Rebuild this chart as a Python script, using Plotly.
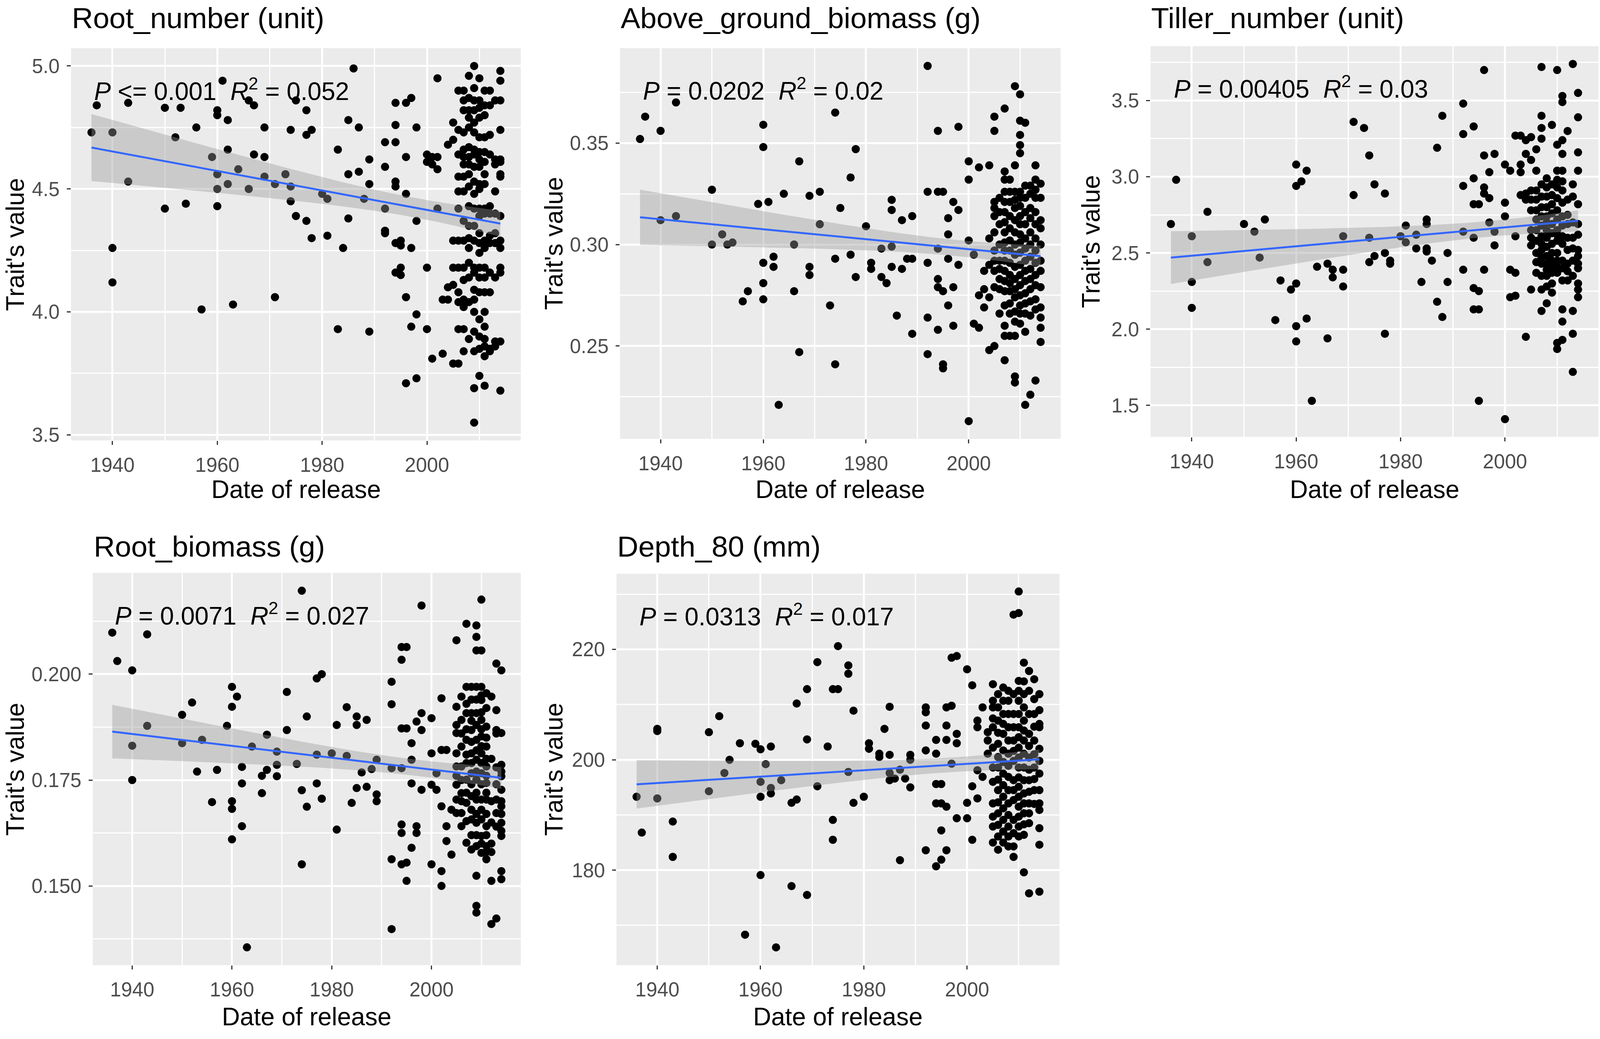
import numpy as np
import plotly.graph_objects as go

# ---------------- data (year of release, trait values) ----------------
root_number = [
    (1936, [4.73]), (1937, [4.84]), (1940, [4.73, 4.26, 4.12]), (1943, [4.85, 4.53]),
    (1950, [4.83, 4.42]), (1952, [4.71]), (1953, [4.83]), (1954, [4.44]), (1956, [4.75]),
    (1957, [4.01]), (1959, [4.63]), (1960, [4.82, 4.80, 4.56, 4.50, 4.43]), (1961, [4.94]),
    (1962, [4.78, 4.66, 4.52]), (1963, [4.03]), (1964, [4.58]), (1966, [4.86, 4.50]),
    (1967, [4.84, 4.64]), (1969, [4.75, 4.63, 4.55]), (1971, [4.52, 4.06]), (1973, [4.56]),
    (1974, [4.74, 4.51, 4.45]), (1975, [4.86, 4.39]), (1977, [4.82, 4.72, 4.37]),
    (1978, [4.74, 4.30]), (1980, [4.48]), (1981, [4.46, 4.31]), (1983, [4.66, 3.93]),
    (1984, [4.26]), (1985, [4.78, 4.56, 4.38]), (1986, [4.99]), (1987, [4.75, 4.57]),
    (1988, [4.46]), (1989, [4.62, 4.52, 3.92]), (1992, [4.69, 4.59, 4.42, 4.33, 4.32]),
    (1994, [4.85, 4.76, 4.69, 4.53, 4.51, 4.28, 4.16]), (1995, [4.29, 4.27, 4.18, 4.15]),
    (1996, [4.85, 4.63, 4.48, 4.06, 3.71]), (1997, [4.87, 4.26, 3.94]),
    (1998, [4.75, 4.37, 3.99, 3.73]), (2000, [4.64, 4.61, 4.18, 3.93]),
    (2001, [4.63, 4.60, 3.81]), (2002, [4.95, 4.63, 4.58, 4.42]), (2003, [4.05, 3.83]),
    (2004, [4.68, 4.10, 4.05]), (2005, [4.77, 4.70, 4.29, 4.18, 4.11, 3.79]),
    (2006, [4.90, 4.74, 4.64, 4.55, 4.49, 4.42, 4.29, 4.18, 4.08, 4.04, 3.93, 3.79]),
    (2007, [4.90, 4.86, 4.82, 4.73, 4.66, 4.63, 4.60, 4.55, 4.49, 4.37, 4.29, 4.18, 4.13, 4.05,
            4.02, 3.93, 3.84]),
    (2008, [4.96, 4.87, 4.82, 4.79, 4.75, 4.67, 4.63, 4.60, 4.56, 4.51, 4.43, 4.35, 4.30, 4.26,
            4.20, 4.14, 4.04, 3.89]),
    (2009, [5.00, 4.91, 4.86, 4.82, 4.77, 4.73, 4.66, 4.64, 4.59, 4.53, 4.48, 4.42, 4.35, 4.29,
            4.18, 4.16, 4.09, 4.05, 4.00, 3.92, 3.84, 3.69, 3.55]),
    (2010, [4.95, 4.86, 4.83, 4.79, 4.71, 4.65, 4.62, 4.59, 4.52, 4.50, 4.42, 4.39, 4.32, 4.28,
            4.24, 4.18, 4.14, 4.08, 3.97, 3.90, 3.85, 3.74]),
    (2011, [4.90, 4.84, 4.80, 4.71, 4.65, 4.61, 4.56, 4.52, 4.42, 4.40, 4.29, 4.26, 4.18, 4.14,
            4.08, 4.00, 3.94, 3.89, 3.86, 3.82, 3.70]),
    (2012, [4.90, 4.84, 4.72, 4.64, 4.43, 4.40, 4.31, 4.28, 4.16, 4.08, 3.85, 3.84]),
    (2013, [4.86, 4.62, 4.60, 4.49, 4.40, 4.32, 4.28, 4.14, 3.88, 3.86]),
    (2014, [4.98, 4.94, 4.86, 4.74, 4.62, 4.61, 4.56, 4.55, 4.39, 4.29, 4.26, 4.18, 4.16, 3.88, 3.68]),
]

above_ground_biomass = [
    (1936, [0.352]), (1937, [0.363]), (1940, [0.356, 0.312]), (1943, [0.370, 0.314]),
    (1950, [0.327, 0.300]), (1952, [0.305]), (1953, [0.300]), (1954, [0.301]), (1956, [0.272]),
    (1957, [0.277]), (1959, [0.320]), (1960, [0.359, 0.348, 0.291, 0.281, 0.273]),
    (1961, [0.321]), (1962, [0.294, 0.289]), (1963, [0.221]), (1964, [0.325]),
    (1966, [0.300, 0.277]), (1967, [0.341, 0.247]), (1969, [0.324, 0.289, 0.285]),
    (1971, [0.326, 0.310]), (1973, [0.270]), (1974, [0.365, 0.293, 0.241]), (1975, [0.318]),
    (1977, [0.333, 0.295]), (1978, [0.347, 0.284]), (1980, [0.309]), (1981, [0.291, 0.288]),
    (1983, [0.298, 0.284]), (1984, [0.281]), (1985, [0.322, 0.317, 0.299, 0.289]),
    (1986, [0.265]), (1987, [0.312, 0.288]), (1988, [0.293]), (1989, [0.314, 0.293, 0.256]),
    (1992, [0.388, 0.326, 0.291, 0.264, 0.246]),
    (1994, [0.356, 0.326, 0.298, 0.283, 0.279, 0.258]), (1995, [0.326, 0.277, 0.241, 0.239]),
    (1996, [0.313, 0.305, 0.293, 0.270]), (1997, [0.321, 0.279, 0.260]),
    (1998, [0.358, 0.317, 0.290]), (2000, [0.341, 0.332, 0.302, 0.213]), (2001, [0.295, 0.261]),
    (2002, [0.338, 0.275, 0.259]), (2003, [0.287, 0.278, 0.269]),
    (2004, [0.339, 0.303, 0.290, 0.274, 0.248]),
    (2005, [0.363, 0.356, 0.321, 0.318, 0.314, 0.306, 0.297, 0.292, 0.287, 0.279, 0.250]),
    (2006, [0.323, 0.316, 0.310, 0.300, 0.292, 0.288, 0.283, 0.278, 0.266]),
    (2007, [0.367, 0.336, 0.332, 0.326, 0.321, 0.316, 0.311, 0.306, 0.301, 0.297, 0.292, 0.287,
            0.282, 0.277, 0.270, 0.260, 0.255, 0.243]),
    (2008, [0.332, 0.326, 0.321, 0.314, 0.308, 0.302, 0.297, 0.291, 0.285, 0.281, 0.277, 0.271,
            0.266, 0.255]),
    (2009, [0.378, 0.339, 0.326, 0.322, 0.318, 0.312, 0.306, 0.300, 0.295, 0.289, 0.283, 0.278,
            0.274, 0.267, 0.262, 0.255, 0.235, 0.232]),
    (2010, [0.374, 0.361, 0.354, 0.349, 0.345, 0.326, 0.323, 0.319, 0.314, 0.310, 0.305, 0.301,
            0.296, 0.290, 0.285, 0.280, 0.275, 0.270, 0.266, 0.261]),
    (2011, [0.360, 0.329, 0.323, 0.316, 0.310, 0.303, 0.298, 0.292, 0.287, 0.282, 0.276, 0.271,
            0.266, 0.257, 0.221]),
    (2012, [0.329, 0.325, 0.318, 0.313, 0.306, 0.300, 0.294, 0.288, 0.283, 0.278, 0.272, 0.265, 0.226]),
    (2013, [0.339, 0.332, 0.327, 0.323, 0.316, 0.310, 0.303, 0.297, 0.291, 0.285, 0.280, 0.273,
            0.268, 0.233]),
    (2014, [0.330, 0.323, 0.312, 0.308, 0.300, 0.292, 0.287, 0.279, 0.269, 0.264, 0.259, 0.252]),
]

tiller_number = [
    (1936, [2.69]), (1937, [2.98]), (1940, [2.61, 2.31, 2.14]), (1943, [2.77, 2.44]),
    (1950, [2.69]), (1952, [2.64]), (1953, [2.47]), (1954, [2.72]), (1956, [2.06]),
    (1957, [2.32]), (1959, [2.26]), (1960, [3.08, 2.94, 2.30, 2.02, 1.92]), (1961, [2.97]),
    (1962, [3.04, 2.07]), (1963, [1.53]), (1964, [2.41]), (1966, [2.43, 1.94]),
    (1967, [2.39, 2.34]), (1969, [2.61, 2.39, 2.28]), (1971, [3.36, 2.88]), (1973, [3.32]),
    (1974, [3.14, 2.60, 2.44]), (1975, [2.95, 2.48]), (1977, [2.89, 2.50, 1.97]),
    (1978, [2.45, 2.43]), (1980, [2.61]), (1981, [2.68, 2.57]), (1983, [2.62, 2.53]),
    (1984, [2.31]), (1985, [2.72, 2.69, 2.53, 2.51]), (1986, [2.45]), (1987, [3.19, 2.18]),
    (1988, [3.40, 2.08]), (1989, [2.50, 2.31]), (1992, [3.48, 3.28, 2.94, 2.64, 2.39]),
    (1994, [3.33, 2.99, 2.82, 2.60, 2.27, 2.13]), (1995, [2.82, 2.25, 2.13, 1.53]),
    (1996, [3.70, 3.14, 2.93, 2.89, 2.39]), (1997, [3.03, 2.86, 2.70]),
    (1998, [3.15, 2.64, 2.55]), (2000, [3.08, 2.83, 2.74, 1.41]), (2001, [3.04, 2.39, 2.21]),
    (2002, [3.27, 2.61, 2.37, 2.22]), (2003, [3.27, 3.08, 3.03, 2.88]),
    (2004, [3.24, 3.15, 2.89, 2.85, 1.95]),
    (2005, [3.26, 3.11, 2.91, 2.85, 2.78, 2.65, 2.60, 2.55, 2.26]),
    (2006, [3.18, 3.04, 2.91, 2.85, 2.78, 2.72, 2.65, 2.58, 2.50, 2.44, 2.37]),
    (2007, [3.72, 3.40, 3.32, 3.25, 2.95, 2.87, 2.80, 2.74, 2.68, 2.61, 2.56, 2.52, 2.47, 2.43,
            2.35, 2.26, 2.12]),
    (2008, [2.99, 2.93, 2.87, 2.80, 2.74, 2.70, 2.65, 2.60, 2.54, 2.48, 2.43, 2.39, 2.35, 2.28, 2.17]),
    (2009, [3.34, 2.95, 2.88, 2.82, 2.76, 2.69, 2.63, 2.56, 2.50, 2.45, 2.41, 2.37, 2.30, 2.24]),
    (2010, [3.70, 3.21, 3.04, 2.98, 2.93, 2.86, 2.78, 2.72, 2.65, 2.62, 2.58, 2.50, 2.45, 2.41,
            2.37, 1.91, 1.87]),
    (2011, [3.53, 3.49, 3.24, 3.15, 3.04, 2.97, 2.91, 2.83, 2.74, 2.68, 2.61, 2.56, 2.45, 2.40,
            2.32, 2.13, 2.05, 1.93]),
    (2012, [3.30, 2.85, 2.75, 2.69, 2.60, 2.52, 2.43, 2.38, 2.32]),
    (2013, [3.74, 2.95, 2.87, 2.70, 2.60, 2.53, 2.45, 2.35, 2.12, 1.97, 1.72]),
    (2014, [3.55, 3.39, 3.16, 3.04, 2.82, 2.69, 2.62, 2.52, 2.48, 2.43, 2.40, 2.30, 2.26, 2.21]),
]

root_biomass = [
    (1936, [0.2098]), (1937, [0.2031]), (1940, [0.2009, 0.1831, 0.1750]), (1943, [0.2094, 0.1878]),
    (1950, [0.1904, 0.1837]), (1952, [0.1933]), (1953, [0.1770]), (1954, [0.1845]),
    (1956, [0.1698]), (1957, [0.1774]), (1959, [0.1878]),
    (1960, [0.1970, 0.1923, 0.1700, 0.1682, 0.1610]), (1961, [0.1947]),
    (1962, [0.1781, 0.1742, 0.1641]), (1963, [0.1355]), (1964, [0.1829]), (1966, [0.1760, 0.1719]),
    (1967, [0.1857, 0.1774]), (1969, [0.1817, 0.1786, 0.1759]), (1971, [0.1958, 0.1868]),
    (1973, [0.1788]), (1974, [0.2197, 0.1726, 0.1551]), (1975, [0.1900, 0.1687]),
    (1977, [0.1990, 0.1810, 0.1742]), (1978, [0.2000, 0.1706]), (1980, [0.1813]),
    (1981, [0.1880, 0.1633]), (1983, [0.1922, 0.1807]), (1984, [0.1696]),
    (1985, [0.1900, 0.1880, 0.1731]), (1986, [0.1768]), (1987, [0.1892, 0.1734]), (1988, [0.1776]),
    (1989, [0.1798, 0.1716, 0.1700]), (1992, [0.1982, 0.1929, 0.1778, 0.1563, 0.1398]),
    (1994, [0.2064, 0.2034, 0.1872, 0.1778, 0.1645, 0.1625, 0.1551]),
    (1995, [0.2064, 0.1872, 0.1555, 0.1512]), (1996, [0.1837, 0.1798, 0.1742, 0.1590]),
    (1997, [0.1888, 0.1641, 0.1625]), (1998, [0.2162, 0.1908, 0.1868, 0.1727]),
    (2000, [0.1896, 0.1813, 0.1739, 0.1551]), (2001, [0.1766, 0.1727]),
    (2002, [0.1943, 0.1821, 0.1688, 0.1535, 0.1500]), (2003, [0.1821, 0.1641, 0.1606]),
    (2004, [0.1680, 0.1574]),
    (2005, [0.2080, 0.1923, 0.1880, 0.1861, 0.1813, 0.1782, 0.1760, 0.1739, 0.1704, 0.1672]),
    (2006, [0.1947, 0.1892, 0.1860, 0.1829, 0.1782, 0.1750, 0.1719, 0.1700, 0.1672, 0.1641]),
    (2007, [0.2119, 0.1970, 0.1930, 0.1908, 0.1870, 0.1845, 0.1810, 0.1790, 0.1751, 0.1720,
            0.1696, 0.1653, 0.1602]),
    (2008, [0.1970, 0.1940, 0.1908, 0.1890, 0.1868, 0.1840, 0.1813, 0.1790, 0.1766, 0.1740,
            0.1712, 0.1680, 0.1657, 0.1620, 0.1586]),
    (2009, [0.2115, 0.2088, 0.2056, 0.1970, 0.1940, 0.1908, 0.1880, 0.1845, 0.1820, 0.1798,
            0.1770, 0.1751, 0.1720, 0.1704, 0.1670, 0.1649, 0.1620, 0.1594, 0.1524, 0.1453, 0.1437]),
    (2010, [0.2176, 0.2056, 0.1970, 0.1950, 0.1939, 0.1910, 0.1892, 0.1870, 0.1853, 0.1830,
            0.1813, 0.1790, 0.1766, 0.1740, 0.1704, 0.1680, 0.1657, 0.1618, 0.1600, 0.1578]),
    (2011, [0.1955, 0.1920, 0.1876, 0.1850, 0.1829, 0.1800, 0.1782, 0.1760, 0.1743, 0.1720,
            0.1704, 0.1670, 0.1641, 0.1620, 0.1594, 0.1580, 0.1563]),
    (2012, [0.1947, 0.1800, 0.1700, 0.1650, 0.1600, 0.1580, 0.1512, 0.1410]),
    (2013, [0.2025, 0.1915, 0.1868, 0.1860, 0.1780, 0.1740, 0.1704, 0.1672, 0.1640, 0.1423]),
    (2014, [0.2009, 0.1861, 0.1786, 0.1770, 0.1759, 0.1727, 0.1700, 0.1688, 0.1670, 0.1649,
            0.1630, 0.1618, 0.1535, 0.1516]),
]

depth_80 = [
    (1936, [193.3]), (1937, [186.8]), (1940, [205.6, 205.2, 193.0]), (1943, [188.8, 182.4]),
    (1950, [205.0, 194.3]), (1952, [207.9]), (1953, [197.6]), (1954, [200.0]), (1956, [203.0]),
    (1957, [168.3]), (1959, [202.9]), (1960, [201.9, 196.0, 193.3, 179.1]), (1961, [199.2]),
    (1962, [202.4, 194.9, 193.9]), (1963, [166.0]), (1964, [196.3]), (1966, [192.2, 177.1]),
    (1967, [210.2, 192.8]), (1969, [212.8, 203.7, 175.5]), (1971, [217.7, 195.2]), (1973, [202.4]),
    (1974, [212.8, 189.1, 185.5]), (1975, [220.6, 212.8]), (1977, [217.1, 215.6, 197.8]),
    (1978, [208.9, 192.2]), (1980, [193.3]), (1981, [203.0, 202.0]), (1983, [201.1, 200.5]),
    (1984, [205.6]), (1985, [209.6, 200.9, 197.6, 196.3]), (1986, [196.6]), (1987, [198.2, 181.8]),
    (1988, [196.6]), (1989, [200.9, 200.0, 195.0]), (1992, [209.5, 208.6, 206.2, 201.7, 183.6]),
    (1994, [203.6, 201.1, 195.6, 192.1, 180.7]), (1995, [195.6, 192.1, 187.2, 181.9]),
    (1996, [209.5, 206.2, 203.6, 191.5, 183.6]), (1997, [218.5, 209.8, 199.3]),
    (1998, [218.8, 204.7, 203.0, 189.4]), (2000, [216.4, 192.2, 189.4]),
    (2001, [213.5, 195.2, 185.5]), (2002, [207.1, 205.9, 198.1, 193.0]), (2003, [209.5, 196.9]),
    (2004, [205.0, 203.5, 201.1]),
    (2005, [213.7, 210.7, 209.5, 207.5, 205.9, 202.2, 198.6, 196.0, 192.1, 189.7, 187.9, 185.0]),
    (2006, [211.9, 209.5, 207.1, 204.9, 202.9, 200.5, 198.6, 196.4, 194.5, 192.3, 190.3, 188.2,
            186.1, 183.7]),
    (2007, [213.1, 210.7, 208.3, 206.5, 204.7, 201.7, 199.6, 197.5, 195.4, 193.3, 191.2, 189.1,
            187.0, 185.0]),
    (2008, [212.5, 210.7, 208.3, 205.9, 203.5, 201.1, 198.9, 196.9, 194.5, 192.1, 190.0, 187.9,
            186.1, 184.3]),
    (2009, [226.3, 211.9, 208.3, 205.9, 203.5, 201.6, 199.8, 196.3, 194.5, 192.7, 189.1, 186.7,
            184.3, 182.4]),
    (2010, [230.5, 226.6, 214.3, 212.5, 210.7, 208.3, 205.9, 204.1, 202.2, 200.4, 198.6, 196.8,
            195.1, 193.3, 191.5, 189.7, 187.9, 186.1]),
    (2011, [217.6, 214.2, 211.9, 209.5, 207.1, 205.3, 203.5, 201.1, 198.6, 196.3, 193.9, 192.1,
            190.3, 188.3, 186.4, 179.6]),
    (2012, [216.1, 212.5, 208.3, 204.7, 202.5, 200.4, 198.2, 196.3, 194.2, 192.1, 190.3, 188.5, 175.8]),
    (2013, [214.6, 211.0, 208.3, 206.0, 203.5, 201.0, 198.6, 196.5, 194.5, 192.0]),
    (2014, [211.9, 209.0, 206.5, 205.9, 202.0, 199.8, 197.5, 194.5, 192.1, 190.9, 187.6, 184.6, 176.1]),
]

panel_titles = ["Root_number (unit)", "Above_ground_biomass (g)", "Tiller_number (unit)",
                "Root_biomass (g)", "Depth_80 (mm)"]
stat_labels = [
    "<i>P</i> &lt;= 0.001  <i>R</i><sup>2</sup> = 0.052",
    "<i>P</i> = 0.0202  <i>R</i><sup>2</sup> = 0.02",
    "<i>P</i> = 0.00405  <i>R</i><sup>2</sup> = 0.03",
    "<i>P</i> = 0.0071  <i>R</i><sup>2</sup> = 0.027",
    "<i>P</i> = 0.0313  <i>R</i><sup>2</sup> = 0.017",
]
x_ticks = [1940, 1960, 1980, 2000]

# ---------------- layout / style ----------------
FONT = "Liberation Sans, Arial, sans-serif"
H = 2660
panel_specs = [
    dict(data=root_number, xd=[0.0444, 0.3255], yd=[0.5737, 0.9534], dtick=0.5, fmt=".1f",
         ytitle_x=0.0095, row=0),
    dict(data=above_ground_biomass, xd=[0.3875, 0.6629], yd=[0.5752, 0.9534], dtick=0.05, fmt=".2f",
         ytitle_x=0.3462, row=0),
    dict(data=tiller_number, xd=[0.7191, 0.9990], yd=[0.5771, 0.9553], dtick=0.5, fmt=".1f",
         ytitle_x=0.6820, row=0),
    dict(data=root_biomass, xd=[0.0580, 0.3255], yd=[0.0658, 0.4455], dtick=0.025, fmt=".3f",
         ytitle_x=0.0095, row=1),
    dict(data=depth_80, xd=[0.3853, 0.6622], yd=[0.0658, 0.4447], dtick=20, fmt="d",
         ytitle_x=0.3462, row=1),
]
title_y = [1 - 46 / H, 1 - 1407 / H]
xtitle_y = [1 - 1260 / H, 1 - 2618 / H]


def flatten(groups):
    xs, ys = [], []
    for yr, vals in groups:
        xs += [yr] * len(vals)
        ys += vals
    return np.array(xs, float), np.array(ys, float)


def lm_fit(x, y):
    b, a = np.polyfit(x, y, 1)
    n = len(x)
    resid = y - (a + b * x)
    s = np.sqrt(np.sum(resid ** 2) / (n - 2))
    xbar = x.mean()
    sxx = np.sum((x - xbar) ** 2)
    xg = np.linspace(x.min(), x.max(), 80)
    yg = a + b * xg
    se = s * np.sqrt(1.0 / n + (xg - xbar) ** 2 / sxx)
    t = 1.97
    return xg, yg, yg - t * se, yg + t * se


fig = go.Figure()
annotations = []
for i, spec in enumerate(panel_specs):
    k = "" if i == 0 else str(i + 1)
    xa, ya = "x" + k, "y" + k
    x, y = flatten(spec["data"])
    xg, yg, lo, hi = lm_fit(x, y)

    fig.add_trace(go.Scatter(x=x, y=y, mode="markers", xaxis=xa, yaxis=ya,
                             marker=dict(color="black", size=21, line=dict(width=0)),
                             showlegend=False, hoverinfo="skip"))
    fig.add_trace(go.Scatter(x=np.concatenate([xg, xg[::-1]]), y=np.concatenate([hi, lo[::-1]]),
                             mode="lines", fill="toself", fillcolor="rgba(153,153,153,0.4)",
                             line=dict(width=0), xaxis=xa, yaxis=ya, showlegend=False,
                             hoverinfo="skip"))
    fig.add_trace(go.Scatter(x=xg, y=yg, mode="lines", line=dict(color="#3366FF", width=5),
                             xaxis=xa, yaxis=ya, showlegend=False, hoverinfo="skip"))

    xmin, xmax = x.min(), x.max()
    ymin, ymax = min(y.min(), lo.min()), max(y.max(), hi.max())
    xr = [xmin - 0.05 * (xmax - xmin), xmax + 0.05 * (xmax - xmin)]
    yr = [ymin - 0.05 * (ymax - ymin), ymax + 0.05 * (ymax - ymin)]

    common = dict(showline=False, zeroline=False, ticks="outside", ticklen=10, tickwidth=3,
                  tickcolor="#333333", gridcolor="white", gridwidth=5,
                  tickfont=dict(family=FONT, size=51, color="#4D4D4D"), ticklabelstandoff=8)
    fig.layout["xaxis" + k] = dict(domain=spec["xd"], range=xr, anchor=ya, tickmode="array",
                                   tickvals=x_ticks,
                                   minor=dict(tickmode="array", tickvals=[1930, 1950, 1970, 1990, 2010],
                                              showgrid=True, gridcolor="white", gridwidth=2.5),
                                   **common)
    fig.layout["yaxis" + k] = dict(domain=spec["yd"], range=yr, anchor=xa, tickmode="linear",
                                   tick0=0, dtick=spec["dtick"], tickformat=spec["fmt"],
                                   minor=dict(tick0=0, dtick=spec["dtick"] / 2, showgrid=True,
                                              gridcolor="white", gridwidth=2.5),
                                   **common)

    xc = (spec["xd"][0] + spec["xd"][1]) / 2
    yc = (spec["yd"][0] + spec["yd"][1]) / 2
    annotations += [
        dict(text=panel_titles[i], x=spec["xd"][0], y=title_y[spec["row"]], xref="paper", yref="paper",
             xanchor="left", yanchor="middle", showarrow=False,
             font=dict(family=FONT, size=75, color="black")),
        dict(text="Date of release", x=xc, y=xtitle_y[spec["row"]], xref="paper", yref="paper",
             xanchor="center", yanchor="middle", showarrow=False,
             font=dict(family=FONT, size=64, color="black")),
        dict(text="Trait's value", x=spec["ytitle_x"], y=yc, xref="paper", yref="paper",
             xanchor="center", yanchor="middle", textangle=-90, showarrow=False,
             font=dict(family=FONT, size=64, color="black")),
        dict(text=stat_labels[i], x=0.05, y=0.895, xref=xa + " domain", yref=ya + " domain",
             xanchor="left", yanchor="middle", showarrow=False,
             font=dict(family=FONT, size=64, color="black")),
    ]

fig.update_layout(width=4096, height=H, margin=dict(l=0, r=0, t=0, b=0), autosize=True,
                  paper_bgcolor="white", plot_bgcolor="#EBEBEB",
                  annotations=annotations, showlegend=False, font=dict(family=FONT))

# fit the figure to the actual browser viewport
post = """
document.body.style.margin='0';
document.body.style.overflow='hidden';
var gd=document.getElementById('{plot_id}');
Plotly.relayout(gd,{width:window.innerWidth,height:window.innerHeight});
"""
fig.write_html("out.html", post_script=post, config={"displayModeBar": False})
